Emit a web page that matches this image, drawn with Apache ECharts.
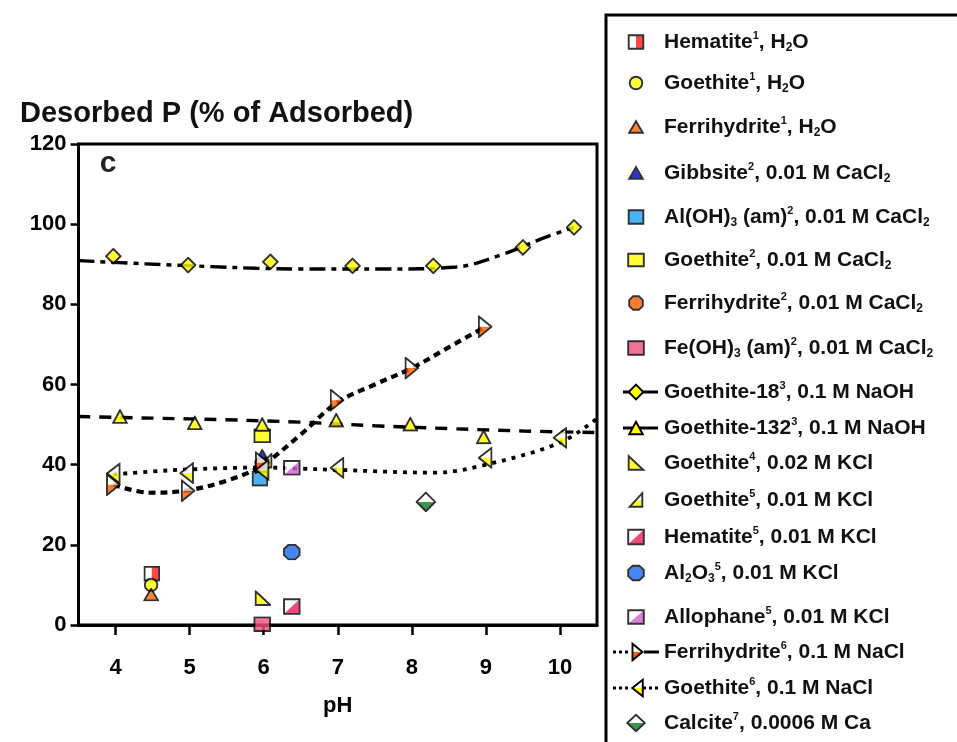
<!DOCTYPE html>
<html>
<head>
<meta charset="utf-8">
<script src="https://cdn.jsdelivr.net/npm/echarts@6.0.0/dist/echarts.min.js"></script>
<style>
html,body{margin:0;padding:0;background:#fff;}
#chart{width:957px;height:742px;}
</style>
</head>
<body>
<div id="chart"></div>
<script>
// ===== Data =====
const xTickValues = [4, 5, 6, 7, 8, 9, 10];

const hematite1     = [[4.49, 12.8]];
const goethite1     = [[4.48, 10.0]];
const ferrihydrite1 = [[4.48, 7.6]];
const gibbsite2     = [[5.98, 42.2]];
const alOH3am2      = [[5.95, 36.5]];
const goethite2     = [[5.98, 47.2]];
const ferrihydrite2 = [[5.98, 40.0]];
const feOH3am2      = [[5.98, 0.2]];
const goethite18    = [[3.97, 92.0], [4.98, 89.8], [6.09, 90.6], [7.20, 89.6], [8.29, 89.6], [9.50, 94.2], [10.19, 99.2]];
const goethite132   = [[4.06, 52.0], [5.07, 50.4], [5.98, 50.0], [6.98, 51.1], [7.98, 50.1], [8.97, 46.9]];
const goethite4     = [[5.99, 6.7]];
const goethite5     = [[6.02, 41.0]];
const hematite5     = [[6.38, 4.6]];
const al2o3_5       = [[6.38, 18.2]];
const allophane5    = [[6.38, 39.2]];
const ferrihydrite6 = [[3.97, 35.0], [4.98, 33.5], [5.98, 40.5], [6.99, 56.1], [8.00, 64.1], [8.99, 74.4]];
const goethite6     = [[3.97, 37.8], [4.96, 37.9], [5.98, 38.7], [6.99, 39.2], [8.99, 41.7], [10.00, 46.7]];
const calcite7      = [[8.19, 30.7]];

// trend curves
const goethite18Curve    = [[3.5, 90.9], [4.4, 90.1], [5.3, 89.4], [5.9, 89.0], [6.5, 88.8], [7.6, 88.8], [8.6, 89.3], [9.2, 92.3], [9.8, 96.7], [10.19, 99.2]];
const goethite132Curve   = [[3.5, 52.0], [4.5, 51.6], [5.5, 51.2], [6.5, 50.6], [7.5, 49.7], [8.5, 49.0], [9.5, 48.4], [10.5, 48.0]];
const ferrihydrite6Curve = [[3.97, 35.0], [4.47, 33.0], [4.98, 33.6], [5.5, 36.0], [5.95, 39.5], [6.5, 47.5], [6.99, 55.5], [7.5, 60.0], [8.0, 64.1], [8.5, 69.3], [8.99, 74.4]];
const goethite6Curve     = [[3.97, 37.6], [4.5, 38.3], [4.96, 38.8], [6.0, 39.3], [6.5, 39.0], [7.0, 38.7], [8.3, 38.0], [9.0, 40.0], [10.0, 45.5], [10.5, 51.5]];

const seriesNames = [
  'Hematite1, H2O', 'Goethite1, H2O', 'Ferrihydrite1, H2O', 'Gibbsite2, 0.01 M CaCl2',
  'Al(OH)3 (am)2, 0.01 M CaCl2', 'Goethite2, 0.01 M CaCl2', 'Ferrihydrite2, 0.01 M CaCl2',
  'Fe(OH)3 (am)2, 0.01 M CaCl2', 'Goethite-18 3, 0.1 M NaOH', 'Goethite-132 3, 0.1 M NaOH',
  'Goethite4, 0.02 M KCl', 'Goethite5, 0.01 M KCl', 'Hematite5, 0.01 M KCl', 'Al2O3 5, 0.01 M KCl',
  'Allophane5, 0.01 M KCl', 'Ferrihydrite6, 0.1 M NaCl', 'Goethite6, 0.1 M NaCl', 'Calcite7, 0.0006 M Ca'
];
const legendLabels = [
  'Hematite{s|1}, H{b|2}O', 'Goethite{s|1}, H{b|2}O', 'Ferrihydrite{s|1}, H{b|2}O', 'Gibbsite{s|2}, 0.01 M CaCl{b|2}',
  'Al(OH){b|3} (am){s|2}, 0.01 M CaCl{b|2}', 'Goethite{s|2}, 0.01 M CaCl{b|2}', 'Ferrihydrite{s|2}, 0.01 M CaCl{b|2}',
  'Fe(OH){b|3} (am){s|2}, 0.01 M CaCl{b|2}', 'Goethite-18{s|3}, 0.1 M NaOH', 'Goethite-132{s|3}, 0.1 M NaOH',
  'Goethite{s|4}, 0.02 M KCl', 'Goethite{s|5}, 0.01 M KCl', 'Hematite{s|5}, 0.01 M KCl', 'Al{b|2}O{b|3}{s|5}, 0.01 M KCl',
  'Allophane{s|5}, 0.01 M KCl', 'Ferrihydrite{s|6}, 0.1 M NaCl', 'Goethite{s|6}, 0.1 M NaCl', 'Calcite{s|7}, 0.0006 M Ca'
];
const seriesData = [hematite1, goethite1, ferrihydrite1, gibbsite2, alOH3am2, goethite2, ferrihydrite2, feOH3am2,
  goethite18, goethite132, goethite4, goethite5, hematite5, al2o3_5, allophane5, ferrihydrite6, goethite6, calcite7];
const seriesCurves = {8: goethite18Curve, 9: goethite132Curve, 15: ferrihydrite6Curve, 16: goethite6Curve};

// ===== Styles / layout =====
const FONT = 'Liberation Sans, Arial, sans-serif';
const markerStyles = [
  {shape: 'squareRightHalf', fill: '#ff1a1a', size: [17, 16]},
  {shape: 'circle', fill: '#ffff00', size: [15, 15]},
  {shape: 'triangle', fill: '#ff6600', size: [16, 14]},
  {shape: 'triangle', fill: '#0000c8', size: [16, 14]},
  {shape: 'square', fill: '#1ea0f0', size: [17, 16]},
  {shape: 'square', fill: '#ffff00', size: [18, 15]},
  {shape: 'octagon', fill: '#ff5a00', size: [16, 16]},
  {shape: 'square', fill: '#f24f7c', size: [18, 16]},
  {shape: 'diamond', fill: '#ffff00', size: [17, 17]},
  {shape: 'triangle', fill: '#ffff00', size: [16, 15]},
  {shape: 'rightTriLeft', fill: '#ffff00', size: [17, 16]},
  {shape: 'rightTriRightHalf', fill: '#ffff00', size: [15, 16]},
  {shape: 'squareDiag', fill: '#f01e5a', size: [18, 17]},
  {shape: 'octagon', fill: '#1a6af0', size: [18, 17]},
  {shape: 'squareDiag', fill: '#d45fd9', size: [18, 16]},
  {shape: 'triRightHalf', fill: '#ff6000', size: [15, 23]},
  {shape: 'triLeftHalf', fill: '#ffff00', size: [15, 22]},
  {shape: 'diamondHalf', fill: '#0a7d1e', size: [21, 21]}
];
const curveStyles = {
  8: {width: 3.4, type: [16, 6, 5, 6]},
  9: {width: 3.4, type: [12, 9]},
  15: {width: 4.2, type: [7, 5]},
  16: {width: 3.8, type: [4, 6]}
};
const legendCenters = [42, 83, 127, 173, 217, 260, 303, 348, 392, 428, 463, 500, 537, 573, 617, 652, 688, 723];
const ICON_W = 46, ICON_H = 20;
const legendLines = {
  8: [['solid', 10, 45]],
  9: [['solid', 10, 45]],
  15: [['dot', 0, 16], ['solid', 31, 46]],
  16: [['dot', 0, 17], ['dot', 30, 46]]
};
const legendMarkerX = {15: 24.5, 16: 24.5};

function shapeMarkup(shape, fill, w, h, ox, oy) {
  const p = 1.2;
  const S = 'stroke="#000" stroke-width="1.9" stroke-linejoin="miter"';
  const poly = (pts, f, stroke) =>
    '<polygon points="' + pts.map(q => (ox + q[0]).toFixed(2) + ',' + (oy + q[1]).toFixed(2)).join(' ') +
    '" fill="' + f + '" ' + (stroke ? S : '') + '/>';
  const L = p, R = w - p, T = p, B = h - p, CX = w / 2, CY = h / 2;
  const box = [[L, T], [R, T], [R, B], [L, B]];
  switch (shape) {
    case 'square': return poly(box, fill, true);
    case 'squareRightHalf':
      return poly(box, '#fff', false) + poly([[CX, T], [R, T], [R, B], [CX, B]], fill, false) + poly(box, 'none', true);
    case 'squareDiag':
      return poly(box, '#fff', false) + poly([[L, B], [R, T], [R, B]], fill, false) + poly(box, 'none', true);
    case 'circle':
      return '<ellipse cx="' + (ox + CX) + '" cy="' + (oy + CY) + '" rx="' + (CX - p) + '" ry="' + (CY - p) + '" fill="' + fill + '" ' + S + '/>';
    case 'octagon': {
      const a = 0.29, dw = (R - L) * a, dh = (B - T) * a;
      return poly([[L + dw, T], [R - dw, T], [R, T + dh], [R, B - dh], [R - dw, B], [L + dw, B], [L, B - dh], [L, T + dh]], fill, true);
    }
    case 'triangle': return poly([[CX, T], [R, B], [L, B]], fill, true);
    case 'diamond': return poly([[CX, T], [R, CY], [CX, B], [L, CY]], fill, true);
    case 'diamondHalf': {
      const d = [[CX, T], [R, CY], [CX, B], [L, CY]];
      return poly(d, '#fff', false) + poly([[L, CY], [R, CY], [CX, B]], fill, false) + poly(d, 'none', true);
    }
    case 'rightTriLeft': return poly([[L, T], [L, B], [R, B]], fill, true);
    case 'rightTriRightHalf': {
      const t = [[R, T], [R, B], [L, B]];
      return poly(t, '#fff', false) + poly([[CX, CY], [R, CY], [R, B], [L, B]], fill, false) + poly(t, 'none', true);
    }
    case 'triRightHalf': {
      const t = [[L, T], [R, CY], [L, B]];
      return poly(t, '#fff', false) + poly([[L, CY], [R, CY], [L, B]], fill, false) + poly(t, 'none', true);
    }
    case 'triLeftHalf': {
      const t = [[R, T], [L, CY], [R, B]];
      return poly(t, '#fff', false) + poly([[R, CY], [L, CY], [R, B]], fill, false) + poly(t, 'none', true);
    }
  }
  return '';
}
function svgImage(inner, w, h) {
  const svg = '<svg xmlns="http://www.w3.org/2000/svg" width="' + (w * 3) + '" height="' + (h * 3) +
    '" viewBox="0 0 ' + w + ' ' + h + '">' + inner + '</svg>';
  return 'image://data:image/svg+xml;base64,' + btoa(svg);
}
function markerSymbol(i) {
  const m = markerStyles[i];
  return svgImage(shapeMarkup(m.shape, m.fill, m.size[0], m.size[1], 0, 0), m.size[0], m.size[1]);
}
function legendIcon(i) {
  const m = markerStyles[i];
  let inner = '';
  (legendLines[i] || []).forEach(l => {
    inner += '<line x1="' + l[1] + '" y1="' + ICON_H / 2 + '" x2="' + l[2] + '" y2="' + ICON_H / 2 +
      '" stroke="#000" stroke-width="3"' + (l[0] === 'dot' ? ' stroke-dasharray="3 3"' : '') + '/>';
  });
  let w = m.size[0], h = m.size[1];
  if (h > ICON_H - 1) { w = w * (ICON_H - 1) / h; h = ICON_H - 1; }
  if (i === 17) { w = 20; h = 19; }
  const cx = legendMarkerX[i] !== undefined ? legendMarkerX[i] : ICON_W / 2;
  inner += shapeMarkup(m.shape, m.fill, w, h, cx - w / 2, ICON_H / 2 - h / 2);
  return svgImage(inner, ICON_W, ICON_H);
}

const labelMap = {};
seriesNames.forEach((n, i) => { labelMap[n] = legendLabels[i]; });

const series = [];
seriesNames.forEach((name, i) => {
  if (seriesCurves[i]) {
    series.push({
      type: 'line', name: name, data: seriesCurves[i], smooth: 0.35, symbol: 'none', z: 2, silent: true,
      lineStyle: {color: '#000', width: curveStyles[i].width, type: curveStyles[i].type, cap: 'butt'}
    });
  }
  series.push({
    type: 'scatter', name: name, data: seriesData[i], symbol: markerSymbol(i),
    symbolSize: markerStyles[i].size, z: 3, silent: true
  });
});

const legends = seriesNames.map((name, i) => ({
  left: 613, top: legendCenters[i] - 12, orient: 'vertical', padding: 0,
  itemWidth: ICON_W, itemHeight: ICON_H, itemGap: 0, selectedMode: false,
  data: [{name: name, icon: legendIcon(i)}],
  formatter: n => labelMap[n],
  textStyle: {
    fontFamily: FONT, fontSize: 21, fontWeight: 'bold', color: '#111', lineHeight: 24,
    rich: {
      s: {fontFamily: FONT, fontSize: 11, fontWeight: 'bold', color: '#111', lineHeight: 17, verticalAlign: 'top'},
      b: {fontFamily: FONT, fontSize: 12, fontWeight: 'bold', color: '#111', lineHeight: 14, verticalAlign: 'bottom'}
    }
  }
}));

const chart = echarts.init(document.getElementById('chart'));
chart.setOption({
  animation: false,
  backgroundColor: '#fff',
  grid: {left: 78.5, right: 360, top: 144, bottom: 117, show: true, borderColor: '#000', borderWidth: 3, containLabel: false},
  xAxis: {
    type: 'value', min: 3.5, max: 10.5,
    name: 'pH', nameLocation: 'middle', nameGap: 70,
    nameTextStyle: {fontFamily: FONT, fontSize: 22, fontWeight: 'bold', color: '#000'},
    axisLine: {onZero: false, lineStyle: {color: '#000', width: 3}},
    axisTick: {customValues: xTickValues, length: 10, lineStyle: {color: '#000', width: 2.5}},
    axisLabel: {customValues: xTickValues, margin: 32, fontFamily: FONT, fontSize: 22, fontWeight: 'bold', color: '#000'},
    splitLine: {show: false}
  },
  yAxis: {
    type: 'value', min: 0, max: 120, interval: 20,
    axisLine: {onZero: false, lineStyle: {color: '#000', width: 3}},
    axisTick: {length: 8, lineStyle: {color: '#000', width: 2.5}},
    axisLabel: {margin: 12, fontFamily: FONT, fontSize: 22, fontWeight: 'bold', color: '#000'},
    splitLine: {show: false}
  },
  legend: legends,
  graphic: [
    {type: 'rect', shape: {x: 606, y: 15, width: 420, height: 800}, style: {fill: 'none', stroke: '#000', lineWidth: 3}, z: 0},
    {type: 'text', x: 20, y: 114, style: {text: 'Desorbed P (% of Adsorbed)', fontFamily: FONT, fontSize: 29, fontWeight: 'bold', fill: '#111', verticalAlign: 'middle', align: 'left'}},
    {type: 'text', x: 108, y: 164, style: {text: 'c', fontFamily: FONT, fontSize: 30, fontWeight: 'bold', fill: '#222', verticalAlign: 'middle', align: 'center'}}
  ],
  series: series
});
</script>
</body>
</html>
